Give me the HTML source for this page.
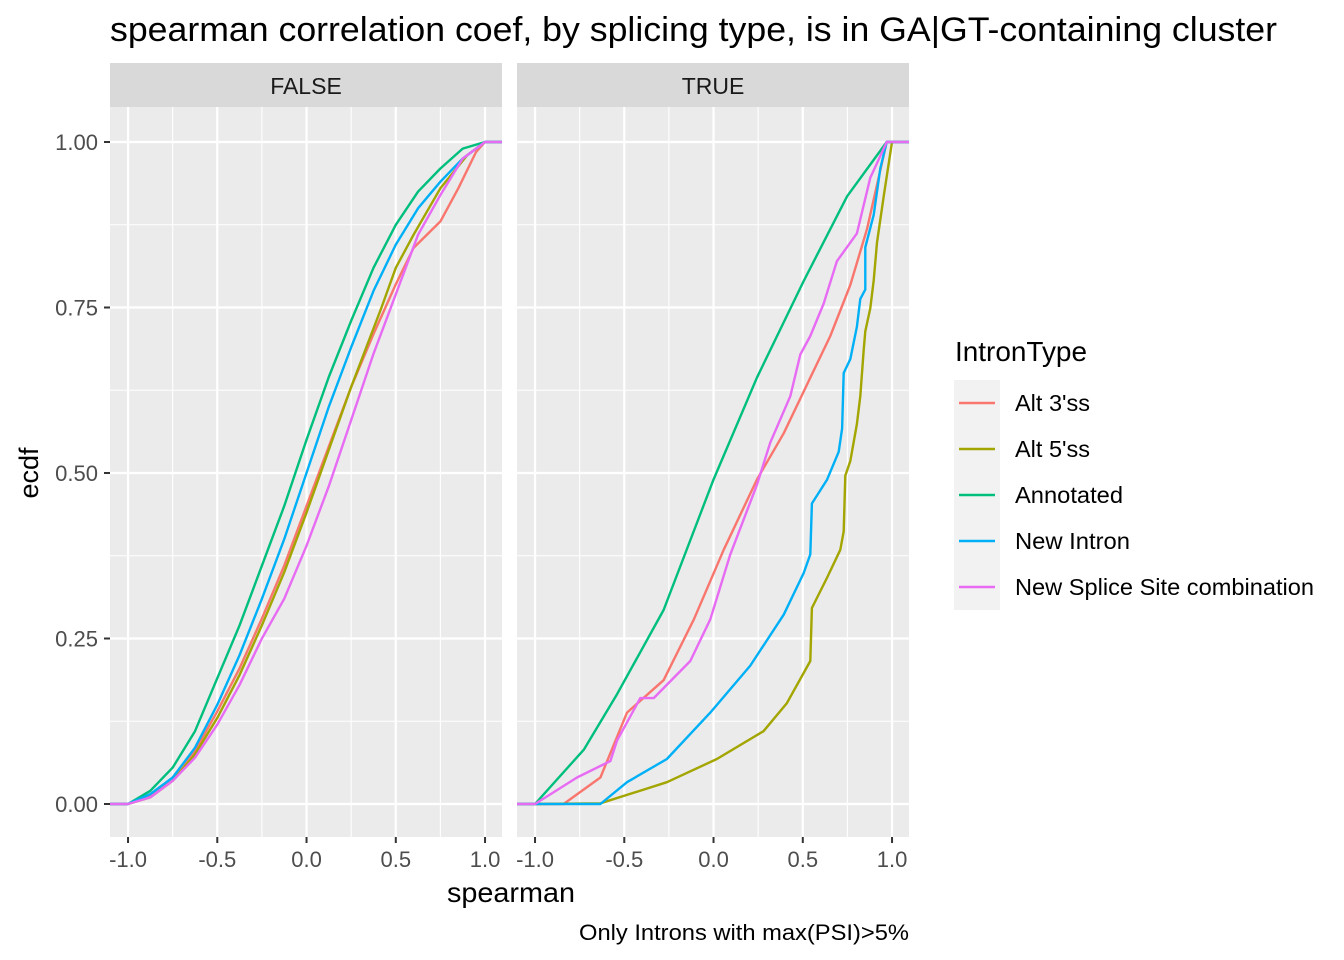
<!DOCTYPE html>
<html><head><meta charset="utf-8"><style>
html,body{margin:0;padding:0;background:#fff;}
svg{display:block;font-family:"Liberation Sans",Arial,sans-serif;}
</style></head><body>
<svg id="chart" width="1344" height="960" viewBox="0 0 1344 960">
<text x="110" y="41" font-size="34" textLength="1167" lengthAdjust="spacingAndGlyphs" fill="#000">spearman correlation coef, by splicing type, is in GA|GT-containing cluster</text>
<text x="38" y="473" font-size="27" fill="#000" transform="rotate(-90 38 473)" text-anchor="middle">ecdf</text>
<text x="447" y="902" font-size="28" textLength="128" lengthAdjust="spacingAndGlyphs" fill="#000">spearman</text>
<text x="579" y="940" font-size="22" textLength="330" lengthAdjust="spacingAndGlyphs" fill="#000">Only Introns with max(PSI)&gt;5%</text>
<g id="panels"></g>
<g>
<text x="955" y="361" font-size="28" textLength="132" lengthAdjust="spacingAndGlyphs" fill="#000">IntronType</text>
<rect x="954" y="380" width="46" height="230" fill="#f2f2f2"/>
<g id="legend-items"></g>
</g>
</svg>
<script>
const series = ["Alt 3'ss","Alt 5'ss","Annotated","New Intron","New Splice Site combination"];
const colors = ["#F8766D","#A3A500","#00BF7D","#00B0F6","#E76BF3"];
const legendWidths = [75,75,108,115,299];
const panelLabels = ["FALSE","TRUE"];
const xTicks = [-1.0,-0.5,0.0,0.5,1.0];
const xTickLabels = ["-1.0","-0.5","0.0","0.5","1.0"];
const yTicks = [0,0.25,0.5,0.75,1];
const yTickLabels = ["0.00","0.25","0.50","0.75","1.00"];
// FALSE panel: [x, ecdf] pairs
const falseAlt3 = [[-1,0],[-0.875,0.012],[-0.75,0.04],[-0.625,0.08],[-0.5,0.14],[-0.375,0.205],[-0.25,0.28],[-0.125,0.36],[0,0.45],[0.125,0.54],[0.25,0.63],[0.375,0.71],[0.5,0.785],[0.6,0.84],[0.75,0.88],[0.85,0.93],[0.95,0.985],[1,1]];
const falseAlt5 = [[-1,0],[-0.875,0.01],[-0.75,0.035],[-0.625,0.075],[-0.5,0.13],[-0.375,0.195],[-0.25,0.27],[-0.125,0.35],[0,0.44],[0.125,0.535],[0.25,0.63],[0.42,0.75],[0.5,0.81],[0.6,0.86],[0.75,0.93],[0.9,0.98],[1,1]];
const falseAnnot = [[-1,0],[-0.875,0.02],[-0.75,0.055],[-0.625,0.11],[-0.5,0.19],[-0.375,0.27],[-0.25,0.36],[-0.125,0.45],[0,0.55],[0.125,0.645],[0.25,0.73],[0.375,0.81],[0.5,0.875],[0.625,0.925],[0.75,0.96],[0.875,0.99],[1,1]];
const falseNewIntron = [[-1,0],[-0.875,0.015],[-0.75,0.04],[-0.625,0.085],[-0.5,0.15],[-0.375,0.225],[-0.25,0.31],[-0.125,0.40],[0,0.5],[0.125,0.6],[0.25,0.69],[0.375,0.775],[0.5,0.845],[0.625,0.90],[0.75,0.94],[0.875,0.975],[1,1]];
const falseNewSplice = [[-1,0],[-0.875,0.01],[-0.75,0.035],[-0.625,0.07],[-0.5,0.12],[-0.375,0.18],[-0.25,0.25],[-0.125,0.31],[0,0.39],[0.125,0.48],[0.25,0.58],[0.375,0.68],[0.5,0.77],[0.625,0.86],[0.75,0.92],[0.875,0.975],[1,1]];
// TRUE panel
const trueAlt3 = [[-1,0],[-0.84,0],[-0.634,0.04],[-0.485,0.138],[-0.28,0.187],[-0.11,0.279],[0.057,0.384],[0.243,0.49],[0.393,0.56],[0.542,0.644],[0.654,0.707],[0.766,0.784],[0.86,0.869],[0.97,1],[1,1]];
const trueAlt5 = [[-1,0],[-0.634,0.001],[-0.261,0.033],[0.019,0.068],[0.28,0.11],[0.41,0.152],[0.542,0.216],[0.551,0.296],[0.636,0.342],[0.71,0.384],[0.729,0.412],[0.738,0.496],[0.766,0.518],[0.803,0.574],[0.822,0.616],[0.841,0.686],[0.85,0.714],[0.878,0.749],[0.897,0.791],[0.916,0.848],[0.953,0.918],[1,1]];
const trueAnnot = [[-1,0],[-0.727,0.082],[-0.54,0.166],[-0.28,0.293],[0,0.49],[0.243,0.644],[0.505,0.79],[0.748,0.918],[0.97,1],[1,1]];
const trueNewIntron = [[-1,0],[-0.634,0],[-0.485,0.033],[-0.261,0.068],[-0.018,0.138],[0.206,0.209],[0.393,0.286],[0.505,0.349],[0.542,0.377],[0.551,0.454],[0.636,0.49],[0.701,0.532],[0.72,0.567],[0.729,0.651],[0.766,0.672],[0.803,0.721],[0.822,0.763],[0.85,0.777],[0.85,0.841],[0.897,0.89],[0.934,0.96],[0.97,1],[1,1]];
const trueNewSplice = [[-1,0],[-0.765,0.04],[-0.578,0.065],[-0.54,0.096],[-0.41,0.16],[-0.335,0.16],[-0.13,0.216],[-0.018,0.279],[0.094,0.377],[0.243,0.482],[0.318,0.546],[0.43,0.616],[0.486,0.679],[0.542,0.707],[0.617,0.756],[0.691,0.82],[0.803,0.862],[0.878,0.946],[0.97,1],[1,1]];
const panelData = [[falseAlt3,falseAlt5,falseAnnot,falseNewIntron,falseNewSplice],[trueAlt3,trueAlt5,trueAnnot,trueNewIntron,trueNewSplice]];

const NS="http://www.w3.org/2000/svg";
const panelX=[110,517], panelW=392, panelTop=107, panelBot=837;
const xRange=[-1.101,1.095];
function yScale(v){return 804 - v*662;}
function mk(tag,attrs,parent){const e=document.createElementNS(NS,tag);for(const k in attrs)e.setAttribute(k,attrs[k]);parent.appendChild(e);return e;}
const root=document.getElementById('panels');
panelLabels.forEach((lab,p)=>{
  const x0=panelX[p];
  const xs=v=>x0+(v-xRange[0])/(xRange[1]-xRange[0])*panelW;
  const g=mk('g',{},root);
  
  
  const strip=mk('rect',{x:x0,y:63,width:panelW,height:44,fill:'#d9d9d9'},g);
  
  
  const st=mk('text',{x:x0+panelW/2,y:94,'font-size':23,fill:'#1a1a1a','text-anchor':'middle'},g);
  st.textContent=lab;
  
  
  const bg=mk('rect',{x:x0,y:panelTop,width:panelW,height:panelBot-panelTop,fill:'#ebebeb'},g);
  
  
  for(let i=0;i<yTicks.length-1;i++){const m=(yTicks[i]+yTicks[i+1])/2;const l=mk('line',{x1:x0,x2:x0+panelW,y1:yScale(m),y2:yScale(m),stroke:'#fff','stroke-width':1.1},g);}
  for(let i=0;i<xTicks.length-1;i++){const m=(xTicks[i]+xTicks[i+1])/2;const l=mk('line',{x1:xs(m),x2:xs(m),y1:panelTop,y2:panelBot,stroke:'#fff','stroke-width':1.1},g);}
  yTicks.forEach(v=>{const l=mk('line',{x1:x0,x2:x0+panelW,y1:yScale(v),y2:yScale(v),stroke:'#fff','stroke-width':2.2},g);});
  xTicks.forEach((v,i)=>{
    const l=mk('line',{x1:xs(v),x2:xs(v),y1:panelTop,y2:panelBot,stroke:'#fff','stroke-width':2.2},g);
    
    
    const t=mk('line',{x1:xs(v),x2:xs(v),y1:panelBot,y2:panelBot+6,stroke:'#333','stroke-width':2},g);
    
    
    const tl=mk('text',{x:xs(v),y:867,'font-size':22,fill:'#4d4d4d','text-anchor':'middle'},g);
    tl.textContent=xTickLabels[i];
    
    
  });
  panelData[p].forEach((pts,s)=>{
    const d=pts.map((q,i)=>(i?'L':'M')+xs(q[0]).toFixed(1)+','+yScale(q[1]).toFixed(1)).join('')+'L'+(x0+panelW)+','+yScale(1);
    const pre='M'+x0+','+yScale(0)+'L';
    const path=mk('path',{d:pre+d.slice(1),fill:'none',stroke:colors[s],'stroke-width':2.4,'stroke-linejoin':'round'},g);
    
    
  });
});
const ag=mk('g',{},root);


yTicks.forEach((v,i)=>{
  const t=mk('line',{x1:104,x2:110,y1:yScale(v),y2:yScale(v),stroke:'#333','stroke-width':2},ag);
  
  
  const tl=mk('text',{x:98,y:yScale(v)+8,'font-size':22,fill:'#4d4d4d','text-anchor':'end'},ag);
  tl.textContent=yTickLabels[i];
  
  
});
const lg=document.getElementById('legend-items');
series.forEach((s,i)=>{
  const y=403+i*46;
  const l=mk('line',{x1:959,x2:995,y1:y,y2:y,stroke:colors[i],'stroke-width':2.4},lg);
  
  
  const t=mk('text',{x:1015,y:y+8,'font-size':23,fill:'#000',textLength:legendWidths[i],lengthAdjust:'spacingAndGlyphs'},lg);
  t.textContent=s;
  
  
});
</script>
</body></html>
